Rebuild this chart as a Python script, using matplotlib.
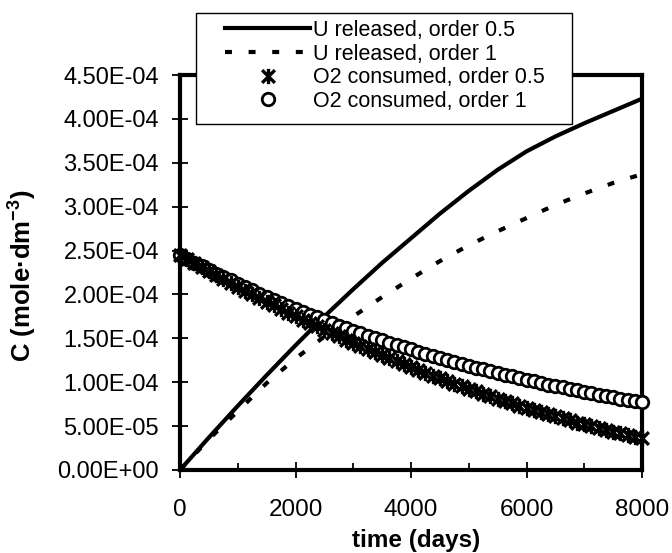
import numpy as np
import matplotlib
matplotlib.use("Agg")
import matplotlib.pyplot as plt
from matplotlib.path import Path
from matplotlib.patches import Rectangle
from matplotlib.ticker import FuncFormatter, MultipleLocator

plt.rcParams['font.family'] = 'Liberation Sans'
plt.rcParams['mathtext.fontset'] = 'custom'
plt.rcParams['mathtext.rm'] = 'Liberation Sans:bold'
plt.rcParams['mathtext.default'] = 'rm'
plt.rcParams['lines.scale_dashes'] = False

# U release curves, every 500 days (units of 1e-6 mol/dm3)
days_lines = [0, 500, 1000, 1500, 2000, 2500, 3000, 3500, 4000,
              4500, 5000, 5500, 6000, 6500, 7000, 7500, 8000]
u_order05 = [0, 37, 73, 108, 142, 175, 206, 236, 264,
             292, 318, 342, 363, 380, 395, 409, 423]
u_order1 = [0, 35, 67, 99, 127, 152, 175, 197, 218,
            238, 256, 272, 287, 302, 315, 327, 337]

# O2 consumption, every 125 days (units of 1e-6 mol/dm3)
days_markers = np.arange(0, 8001, 125)
o2_order05 = [245.0, 240.3, 235.6, 231.0, 226.5, 222.0, 217.5, 213.1, 208.7, 204.4,
              200.1, 195.8, 191.6, 187.5, 183.4, 179.3, 175.3, 171.3, 167.4, 163.5,
              159.7, 155.9, 152.1, 148.4, 144.8, 141.2, 137.6, 134.1, 130.6, 127.2,
              123.8, 120.5, 117.2, 114.0, 110.8, 107.6, 104.5, 101.5, 98.4, 95.5,
              92.5, 89.7, 86.8, 84.0, 81.3, 78.6, 75.9, 73.3, 70.8, 68.3,
              65.8, 63.4, 61.0, 58.7, 56.4, 54.1, 51.9, 49.8, 47.7, 45.6,
              43.6, 41.6, 39.7, 37.8, 36.0]
o2_order1 = [245.0, 240.6, 236.3, 232.1, 227.9, 223.8, 219.8, 215.9, 212.0, 208.2,
             204.5, 200.8, 197.2, 193.7, 190.2, 186.8, 183.4, 180.2, 176.9, 173.8,
             170.6, 167.6, 164.6, 161.6, 158.7, 155.9, 153.1, 150.4, 147.7, 145.0,
             142.4, 139.9, 137.4, 134.9, 132.5, 130.1, 127.8, 125.5, 123.2, 121.0,
             118.9, 116.7, 114.6, 112.6, 110.6, 108.6, 106.6, 104.7, 102.8, 101.0,
             99.2, 97.4, 95.7, 94.0, 92.3, 90.6, 89.0, 87.4, 85.8, 84.3,
             82.8, 81.3, 79.8, 78.4, 77.0]

scale = 1e-6

# Excel-style star: an x with a vertical stroke
star = Path([(-1, -1), (1, 1), (-1, 1), (1, -1), (0, -1.2), (0, 1.2)],
            [Path.MOVETO, Path.LINETO, Path.MOVETO, Path.LINETO, Path.MOVETO, Path.LINETO])

fig = plt.figure(figsize=(6.72, 5.53), dpi=100)
ax = fig.add_axes([180 / 672, 1 - 470 / 553, 462 / 672, 395 / 553])

l1, = ax.plot(days_lines, np.array(u_order05) * scale, color='black', lw=3,
              solid_joinstyle='round', zorder=2)
l2, = ax.plot(days_lines, np.array(u_order1) * scale, color='black', lw=3,
              dashes=(5, 12), dash_capstyle='butt', zorder=2)
m2, = ax.plot(days_markers, np.array(o2_order1) * scale, ls='none', marker='o',
              ms=9, mfc='white', mec='black', mew=2.0, clip_on=False, zorder=4)
m1, = ax.plot(days_markers, np.array(o2_order05) * scale, ls='none', marker=star,
              ms=11, mec='black', mew=2.4, clip_on=False, zorder=5)

ax.set_xlim(0, 8000)
ax.set_ylim(0, 4.5e-4)
ax.xaxis.set_major_locator(MultipleLocator(2000))
ax.xaxis.set_minor_locator(MultipleLocator(1000))
ax.yaxis.set_major_locator(MultipleLocator(5e-5))
ax.yaxis.set_major_formatter(FuncFormatter(lambda v, pos: f"{v:.2E}"))

for s in ax.spines.values():
    s.set_linewidth(3)
    s.set_zorder(3)
ax.tick_params(which='major', direction='inout', length=12, width=1.3, color='black')
ax.tick_params(axis='x', which='major', labelsize=17.5, pad=15)
ax.tick_params(axis='y', which='major', labelsize=17, pad=9)
ax.tick_params(axis='x', which='minor', direction='in', length=5, width=1.3)

ax.set_xlabel('time (days)', fontsize=17.5, fontweight='bold', va='center')
ax.xaxis.set_label_coords((416 - 180) / 462, (470 - 540) / 395)
ax.set_ylabel('C (mole·dm$^{-3}$)', fontsize=18.5, fontweight='bold',
              ha='center', va='center')
ax.yaxis.set_label_coords((23 - 180) / 462, (470 - 276) / 395)

# legend box sits over the top of the frame
fig.add_artist(Rectangle((196 / 672, 1 - 124 / 553), 376 / 672, 111 / 553,
                         transform=fig.transFigure, facecolor='white',
                         edgecolor='black', lw=1.0, zorder=6))
fig.legend([l1, l2, m1, m2],
           ['U released, order 0.5', 'U released, order 1',
            'O2 consumed, order 0.5', 'O2 consumed, order 1'],
           loc='upper left', bbox_to_anchor=(225 / 672, 1 - 20 / 553),
           bbox_transform=fig.transFigure, frameon=False, fontsize=15.5,
           borderpad=0, borderaxespad=0, handlelength=3.95, handletextpad=0.15,
           labelspacing=0.12, numpoints=1).set_zorder(7)

fig.savefig('out.png', dpi=100)
